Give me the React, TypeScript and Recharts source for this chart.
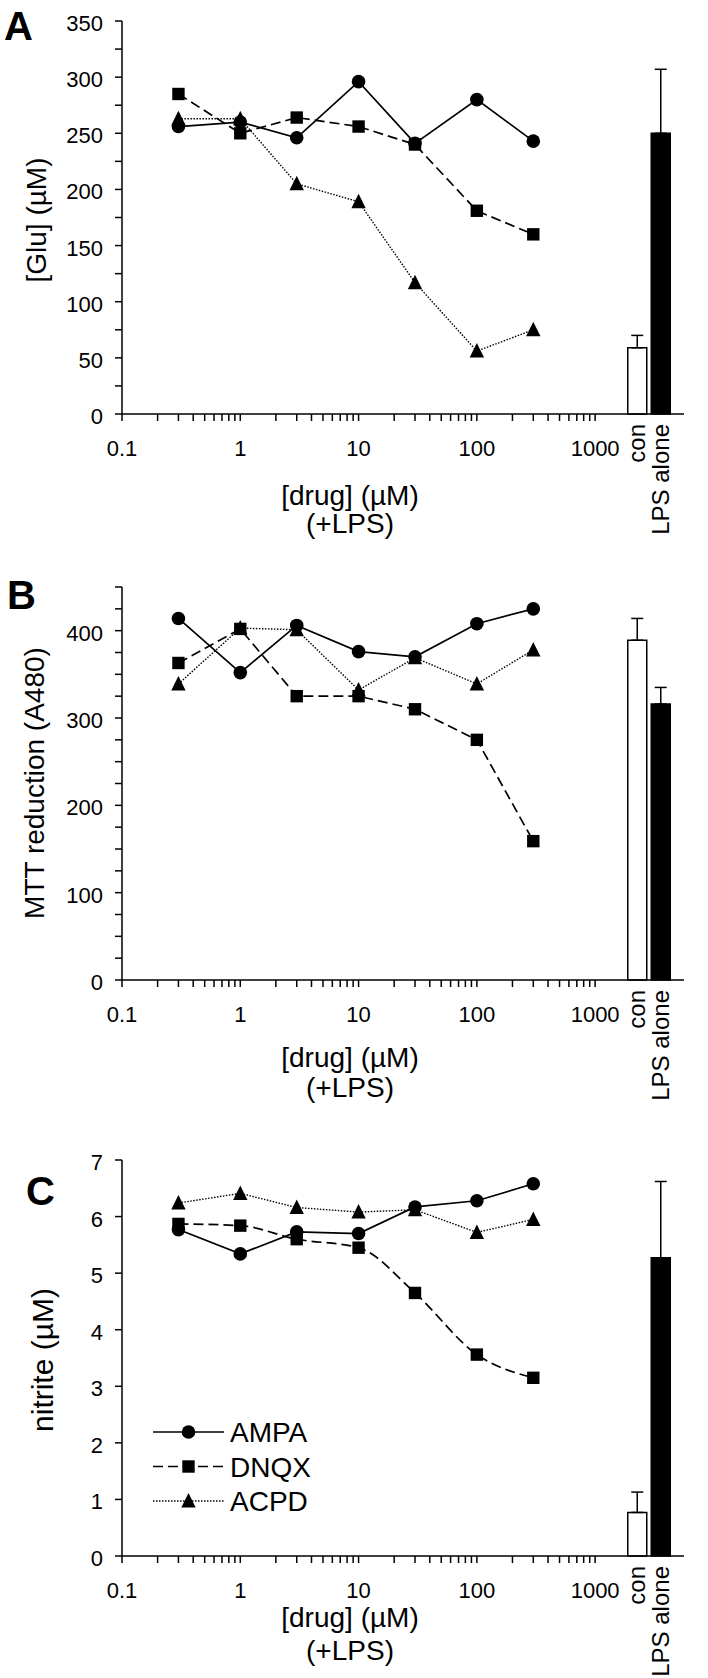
import React from 'react';
import { ComposedChart, Line, Bar, Cell, XAxis, YAxis, ErrorBar, LabelList, Legend } from 'recharts';

const FONT = '"Liberation Sans", Arial, Helvetica, sans-serif';
const W = 708;
const PLOT_LEFT = 122;
const PLOT_RIGHT = 684;

// drug concentrations (µM) tested with LPS
const doses = [0.3, 1, 3, 10, 30, 100, 300];
const xTicks = [
  0.1, 0.2, 0.3, 0.4, 0.5, 0.6, 0.7, 0.8, 0.9,
  1, 2, 3, 4, 5, 6, 7, 8, 9,
  10, 20, 30, 40, 50, 60, 70, 80, 90,
  100, 200, 300, 400, 500, 600, 700, 800, 900,
  1000,
];
const xTickLabels = [0.1, 1, 10, 100, 1000];
const barNames = ['con', 'LPS alone'];

// A: [Glu] (µM)
const gluAMPA = [256, 260, 246, 296, 241, 280, 243];
const gluDNQX = [285, 250, 264, 256, 240, 181, 160];
const gluACPD = [263, 263, 205, 189, 117, 56, 75];
const gluBars = [59, 250];
const gluErr = [11, 57];
const gluTicks = [0, 25, 50, 75, 100, 125, 150, 175, 200, 225, 250, 275, 300, 325, 350];
const gluTickLabels = [0, 50, 100, 150, 200, 250, 300, 350];

// B: MTT reduction (A480)
const mttAMPA = [414, 352, 406, 376, 370, 408, 425];
const mttDNQX = [363, 402, 325, 325, 310, 275, 159];
const mttACPD = [339, 403, 401, 332, 369, 339, 378];
const mttBars = [389, 316];
const mttErr = [25, 19];
const mttTicks = [0, 25, 50, 75, 100, 125, 150, 175, 200, 225, 250, 275, 300, 325, 350, 375, 400, 425, 450];
const mttTickLabels = [0, 100, 200, 300, 400];

// C: nitrite (µM)
const no2AMPA = [5.77, 5.34, 5.73, 5.7, 6.17, 6.28, 6.58];
const no2DNQX = [5.87, 5.84, 5.6, 5.45, 4.65, 3.56, 3.15];
const no2ACPD = [6.24, 6.41, 6.16, 6.08, 6.12, 5.72, 5.95];
const no2Bars = [0.77, 5.27];
const no2Err = [0.36, 1.35];
const no2Ticks = [0, 1, 2, 3, 4, 5, 6, 7];
const no2TickLabels = [0, 1, 2, 3, 4, 5, 6, 7];

const seriesStyle = [
  { name: 'AMPA', marker: 'circle', dash: undefined, width: 1.7 },
  { name: 'DNQX', marker: 'square', dash: '10 5', width: 1.7 },
  { name: 'ACPD', marker: 'triangle', dash: '1.5 1.5', width: 1.4 },
];

const Marker = ({ kind, cx, cy }: { kind: string; cx: number; cy: number }) => {
  if (kind === 'circle') return <circle cx={cx} cy={cy} r={6.8} fill="#000" />;
  if (kind === 'square') return <rect x={cx - 6.2} y={cy - 6.2} width={12.4} height={12.4} fill="#000" />;
  return <path d={`M${cx},${cy - 8}L${cx + 7.2},${cy + 6.5}L${cx - 7.2},${cy + 6.5}Z`} fill="#000" />;
};

const dotFor = (kind: string) => (p: any) => {
  if (p.cx == null || p.cy == null) return <g key={p.index} />;
  return <g key={p.index}><Marker kind={kind} cx={p.cx} cy={p.cy} /></g>;
};

const XTick = (p: any) => {
  const v = p.payload.value;
  if (!xTickLabels.includes(v)) return <g />;
  return (
    <text x={p.x} y={p.y} dy={15.5} textAnchor="middle" fontFamily={FONT} fontSize={22} fill="#000">
      {String(v)}
    </text>
  );
};

const yTickFor = (labels: number[]) => (p: any) => {
  const v = p.payload.value;
  if (!labels.includes(v)) return <g />;
  return (
    <text x={p.x} y={p.y} dy={10} textAnchor="end" fontFamily={FONT} fontSize={22} fill="#000">
      {String(v)}
    </text>
  );
};

const BarName = (p: any) => {
  const cx = Number(p.x) + Number(p.width) / 2;
  const top = Number(p.y) + Number(p.height) + 10;
  return (
    <text
      x={cx}
      y={top}
      dy={8}
      transform={`rotate(-90, ${cx}, ${top})`}
      textAnchor="end"
      fontFamily={FONT}
      fontSize={24}
      fill="#000"
    >
      {p.value}
    </text>
  );
};

const LegendBox = () => (
  <svg width={220} height={110}>
    {seriesStyle.map((s, i) => {
      const y = 17 + i * 34.5;
      return (
        <g key={s.name}>
          <line x1={3} x2={74} y1={y} y2={y} stroke="#000" strokeWidth={s.width} strokeDasharray={s.dash} />
          <Marker kind={s.marker} cx={38.5} cy={y} />
          <text x={80} y={y} dy={10} fontFamily={FONT} fontSize={28} fill="#000">{s.name}</text>
        </g>
      );
    })}
  </svg>
);

type PanelProps = {
  top: number;
  height: number;
  below: number;
  yMax: number;
  yTicks: number[];
  yLabels: number[];
  values: number[][];
  bars: number[];
  errs: number[];
  letter: string;
  letterX: number;
  letterY: number;
  yTitle: string;
  yTitleX: number;
  yTitleY: number;
  yTitleSize: number;
  xTitleY: number[];
  legend?: boolean;
  smoothDNQX?: boolean;
};

const Panel = (props: PanelProps) => {
  const { top, height, below, yMax, yTicks, yLabels, values, bars, errs } = props;
  const barData = barNames.map((name, i) => ({ name, value: bars[i], err: [0, errs[i]] }));

  return (
    <div style={{ position: 'absolute', left: 0, top, width: W, height }}>
      <ComposedChart
        width={W}
        height={height}
        data={barData}
        margin={{ top: 21, right: W - PLOT_RIGHT, left: PLOT_LEFT - 60, bottom: below - 30 }}
      >
        <XAxis
          xAxisId="dose"
          dataKey="c"
          type="number"
          scale="log"
          domain={[0.1, 5640]}
          allowDataOverflow
          ticks={xTicks}
          interval={0}
          tick={XTick}
          tickSize={7}
          tickMargin={19}
          height={30}
          stroke="#000"
          strokeWidth={1.5}
        />
        <XAxis xAxisId="ctrl" dataKey="name" hide height={0} padding={{ left: 503.75, right: 11.25 }} />
        <YAxis
          type="number"
          domain={[0, yMax]}
          ticks={yTicks}
          interval={0}
          tick={yTickFor(yLabels)}
          tickSize={7}
          tickMargin={12}
          width={60}
          stroke="#000"
          strokeWidth={1.5}
        />
        <Bar xAxisId="ctrl" dataKey="value" barSize={19} stroke="#000" strokeWidth={1.5} isAnimationActive={false}>
          {barData.map((d, i) => (
            <Cell key={d.name} fill={i === 0 ? '#fff' : '#000'} />
          ))}
          <ErrorBar dataKey="err" direction="y" width={6} stroke="#000" strokeWidth={1.5} />
          <LabelList dataKey="name" content={BarName} />
        </Bar>
        {seriesStyle.map((s, k) => (
          <Line
            key={s.name}
            name={s.name}
            xAxisId="dose"
            data={values[k].map((v, i) => ({ c: doses[i], v }))}
            dataKey="v"
            type={props.smoothDNQX && s.name === 'DNQX' ? 'monotone' : 'linear'}
            stroke="#000"
            strokeWidth={s.width}
            strokeDasharray={s.dash}
            dot={dotFor(s.marker)}
            activeDot={false}
            isAnimationActive={false}
          />
        ))}
        {props.legend && (
          <Legend
            layout="horizontal"
            align="center"
            verticalAlign="middle"
            content={LegendBox}
            wrapperStyle={{ left: 150, top: 276, width: 220, height: 110 }}
          />
        )}
      </ComposedChart>
      <svg
        width={W}
        height={height}
        style={{ position: 'absolute', left: 0, top: 0, pointerEvents: 'none' }}
      >
        <text x={props.letterX} y={props.letterY} fontFamily={FONT} fontWeight="bold" fontSize={40} fill="#000">
          {props.letter}
        </text>
        <text
          x={props.yTitleX}
          y={props.yTitleY}
          dy={9}
          transform={`rotate(-90, ${props.yTitleX}, ${props.yTitleY})`}
          textAnchor="middle"
          fontFamily={FONT}
          fontSize={props.yTitleSize}
          fill="#000"
        >
          {props.yTitle}
        </text>
        <text x={350} y={props.xTitleY[0]} textAnchor="middle" fontFamily={FONT} fontSize={28} fill="#000">
          [drug] (µM)
        </text>
        <text x={350} y={props.xTitleY[1]} textAnchor="middle" fontFamily={FONT} fontSize={28} fill="#000">
          (+LPS)
        </text>
      </svg>
    </div>
  );
};

const App: React.FC = () => (
  <div style={{ position: 'absolute', left: 0, top: 0, width: W, height: 1678, background: '#fff' }}>
    <Panel
      top={0}
      height={560}
      below={146}
      yMax={350}
      yTicks={gluTicks}
      yLabels={gluTickLabels}
      values={[gluAMPA, gluDNQX, gluACPD]}
      bars={gluBars}
      errs={gluErr}
      letter="A"
      letterX={4}
      letterY={40}
      yTitle="[Glu] (µM)"
      yTitleX={37}
      yTitleY={220}
      yTitleSize={28}
      xTitleY={[505, 533]}
    />
    <Panel
      top={566}
      height={560}
      below={146}
      yMax={450}
      yTicks={mttTicks}
      yLabels={mttTickLabels}
      values={[mttAMPA, mttDNQX, mttACPD]}
      bars={mttBars}
      errs={mttErr}
      letter="B"
      letterX={7}
      letterY={43}
      yTitle="MTT reduction (A480)"
      yTitleX={35}
      yTitleY={217}
      yTitleSize={28}
      xTitleY={[501, 531]}
    />
    <Panel
      top={1139}
      height={539}
      below={122}
      yMax={7}
      yTicks={no2Ticks}
      yLabels={no2TickLabels}
      values={[no2AMPA, no2DNQX, no2ACPD]}
      bars={no2Bars}
      errs={no2Err}
      letter="C"
      letterX={26}
      letterY={66}
      yTitle="nitrite (µM)"
      yTitleX={44}
      yTitleY={221}
      yTitleSize={30}
      xTitleY={[488, 521]}
      legend
      smoothDNQX
    />
  </div>
);

export default App;
